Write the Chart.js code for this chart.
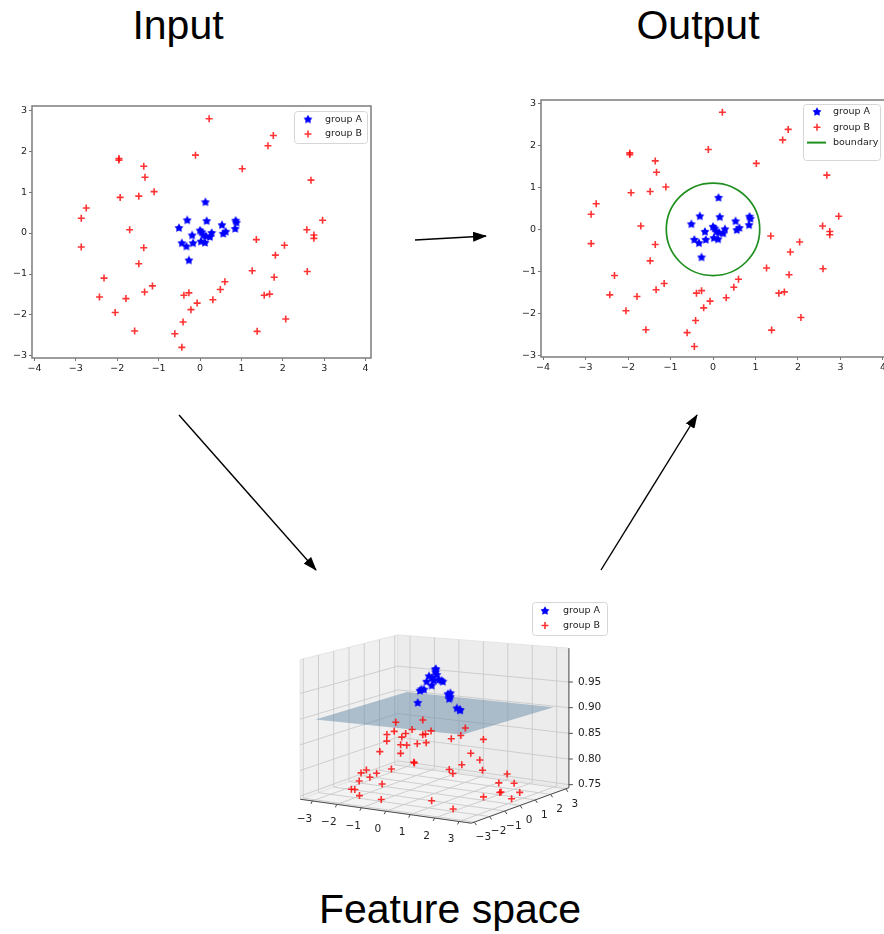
<!DOCTYPE html>
<html>
<head>
<meta charset="utf-8">
<script src="https://cdn.jsdelivr.net/npm/chart.js@4.4.0/dist/chart.umd.min.js"></script>
<style>
  html, body { margin: 0; padding: 0; background: #fff; width: 884px; height: 934px; overflow: hidden; }
  .title { position: absolute; font-family: "Liberation Sans", Arial, sans-serif; font-size: 41px; line-height: 41px; color: #000; white-space: nowrap; transform: translateX(-50%); }
  canvas { position: absolute; }
  svg { position: absolute; left: 0; top: 0; }
</style>
</head>
<body>
<div class="title" style="left:178px; top:5px">Input</div>
<div class="title" style="left:698px; top:5px">Output</div>
<div class="title" style="left:450px; top:889px">Feature space</div>

<svg width="884" height="934">
  <defs>
    <marker id="head" markerWidth="14" markerHeight="10" refX="13" refY="5" orient="auto" markerUnits="userSpaceOnUse">
      <path d="M0,0 L14,5 L0,10 z" fill="#000"/>
    </marker>
  </defs>
  <line x1="415" y1="240" x2="486" y2="236" stroke="#000" stroke-width="1.4" marker-end="url(#head)"/>
  <line x1="179" y1="415" x2="316" y2="570" stroke="#000" stroke-width="1.4" marker-end="url(#head)"/>
  <line x1="601" y1="570" x2="697" y2="415" stroke="#000" stroke-width="1.4" marker-end="url(#head)"/>
</svg>

<canvas id="inputChart" width="380" height="290" style="left:0px; top:95px"></canvas>
<canvas id="outputChart" width="400" height="290" style="left:500px; top:90px"></canvas>
<canvas id="featureChart" width="360" height="290" style="left:270px; top:590px"></canvas>

<script>
// points (same data in both)
const groupA_x = [0.13, -0.31, 0.16, 0.86, 0.88, -0.51, 0.53, 0.62, 0.56, 0.85, 0.00, 0.04, -0.19, 0.08, 0.14, 0.28, 0.24, -0.44, -0.33, -0.17, 0.02, 0.12, -0.27]
const groupA_y = [0.75, 0.31, 0.29, 0.30, 0.25, 0.12, 0.19, 0.03, -0.02, 0.10, 0.06, 0.02, -0.06, -0.06, -0.08, 0.00, -0.10, -0.25, -0.33, -0.25, -0.21, -0.24, -0.67]
// height in feature space (estimated from the 3d plot)
const groupA_z = [0.922, 0.950, 0.960, 0.908, 0.908, 0.943, 0.940, 0.934, 0.940, 0.913, 0.985, 0.986, 0.972, 0.981, 0.976, 0.965, 0.967, 0.944, 0.948, 0.963, 0.971, 0.966, 0.925]

const groupB_x = [0.22, 1.77, 1.64, -0.11, -1.96, -1.96, -1.36, 1.02, -1.33, 2.68, -1.11, -1.93, -1.48, -2.75, -2.87, 2.96, -1.70, 2.58, 2.75, 2.75, -2.87, -1.36, 2.04, 1.36, 1.82, -1.48, 1.26, 2.59, -2.32, 1.79, 0.60, -1.15, 0.49, -1.34, -0.27, -2.43, 1.55, 1.68, -0.39, -1.79, 0.31, -0.07, -0.22, -2.05, -0.41, 2.07, -1.58, 1.38, -0.61, -0.44]
const groupB_y = [2.79, 2.38, 2.13, 1.90, 1.82, 1.78, 1.63, 1.57, 1.36, 1.29, 1.01, 0.87, 0.90, 0.61, 0.36, 0.31, 0.08, 0.08, -0.05, -0.13, -0.34, -0.36, -0.30, -0.16, -0.54, -0.75, -0.92, -0.94, -1.10, -1.08, -1.19, -1.29, -1.38, -1.44, -1.46, -1.56, -1.52, -1.49, -1.52, -1.60, -1.63, -1.71, -1.87, -1.94, -2.17, -2.10, -2.39, -2.40, -2.46, -2.79]
const groupB_z = [0.761, 0.750, 0.770, 0.838, 0.772, 0.774, 0.819, 0.840, 0.838, 0.750, 0.872, 0.819, 0.852, 0.759, 0.753, 0.750, 0.855, 0.780, 0.765, 0.765, 0.753, 0.879, 0.824, 0.880, 0.838, 0.858, 0.866, 0.764, 0.781, 0.821, 0.880, 0.852, 0.875, 0.832, 0.873, 0.753, 0.815, 0.808, 0.866, 0.795, 0.858, 0.854, 0.839, 0.759, 0.811, 0.750, 0.755, 0.764, 0.784, 0.759]

const xTicks = [-4, -3, -2, -1, 0, 1, 2, 3, 4]
const yTicks = [-3, -2, -1, 0, 1, 2, 3]
const xyTicks3d = [-3, -2, -1, 0, 1, 2, 3]
const zTicks3d = [0.75, 0.80, 0.85, 0.90, 0.95]

const boundaryRadius = 1.1
const planeLevel = 0.9
const planeExtent = [-3, 3]

const BLUE = '#0000ff'
const RED = 'rgba(255,0,0,0.8)'
const GREEN = '#1f8f1f'
const FONT = 'DejaVu Sans'

const fmt = v => v < 0 ? '\u2212' + Math.abs(v) : String(v)

// filled five point star like matplotlib's '*'
function starImage(size, color) {
  const c = document.createElement('canvas')
  c.width = c.height = size
  const g = c.getContext('2d')
  const r = size / 2 - 0.3, ri = r * 0.55
  g.beginPath()
  for (let i = 0; i < 10; i++) {
    const a = -Math.PI / 2 + i * Math.PI / 5
    const rr = i % 2 ? ri : r
    g.lineTo(size / 2 + rr * Math.cos(a), size / 2 + rr * Math.sin(a))
  }
  g.closePath()
  g.fillStyle = color
  g.fill()
  return c
}
const star = starImage(10, BLUE)

function zipXY(xs, ys) { return xs.map((x, i) => ({x: x, y: ys[i]})) }

function drawMarker(ctx, kind, x, y) {
  ctx.save()
  if (kind === 'star') {
    ctx.drawImage(star, x - star.width / 2, y - star.height / 2)
  } else if (kind === 'cross') {
    ctx.strokeStyle = RED
    ctx.lineWidth = 1.6
    ctx.beginPath()
    ctx.moveTo(x - 3.5, y); ctx.lineTo(x + 3.5, y)
    ctx.moveTo(x, y - 3.5); ctx.lineTo(x, y + 3.5)
    ctx.stroke()
  } else {
    ctx.strokeStyle = GREEN
    ctx.lineWidth = 2
    ctx.beginPath()
    ctx.moveTo(x - 10, y); ctx.lineTo(x + 9, y)
    ctx.stroke()
  }
  ctx.restore()
}

function drawLegend(ctx, lg, x, y) {
  ctx.save()
  ctx.beginPath()
  ctx.roundRect(x + 0.5, y + 0.5, lg.w, lg.h, 3)
  ctx.fillStyle = 'rgba(255,255,255,0.85)'
  ctx.fill()
  ctx.strokeStyle = '#d6d6d6'
  ctx.lineWidth = 1
  ctx.stroke()
  ctx.font = '9.5px "' + FONT + '"'
  ctx.fillStyle = '#222'
  ctx.textBaseline = 'middle'
  lg.items.forEach((it, i) => {
    const cy = y + lg.first + i * lg.gap
    drawMarker(ctx, it.kind, x + lg.mx, cy)
    ctx.fillText(it.label, x + lg.tx, cy)
  })
  ctx.restore()
}

// frame, boundary circle and legend for the two flat plots
const framePlugin = {
  id: 'frame',
  beforeDatasetsDraw(chart) {
    const {ctx, chartArea: a} = chart
    ctx.save()
    ctx.strokeStyle = '#7c7c7c'
    ctx.lineWidth = 1.5
    ctx.strokeRect(a.left, a.top, a.right - a.left, a.bottom - a.top)
    ctx.restore()
  },
  afterDatasetsDraw(chart, args, opts) {
    const {ctx, chartArea: a, scales} = chart
    if (opts.circle) {
      const cx = scales.x.getPixelForValue(0), cy = scales.y.getPixelForValue(0)
      const rx = scales.x.getPixelForValue(opts.circle) - cx
      const ry = cy - scales.y.getPixelForValue(opts.circle)
      ctx.save()
      ctx.strokeStyle = GREEN
      ctx.lineWidth = 1.7
      ctx.beginPath()
      ctx.ellipse(cx, cy, rx, ry, 0, 0, Math.PI * 2)
      ctx.stroke()
      ctx.restore()
    }
    if (opts.legend) {
      const lg = opts.legend
      drawLegend(ctx, lg, a.right + lg.dx - lg.w, a.top + lg.dy)
    }
  }
}

function axis(min, max, ticks, fit) {
  return {
    type: 'linear',
    min: min,
    max: max,
    grid: { drawOnChartArea: false, drawTicks: true, tickLength: 3, color: '#777' },
    border: { display: false },
    ticks: { color: '#222', font: { family: FONT, size: 9.5 }, padding: 2, maxRotation: 0, autoSkip: false, callback: v => fmt(v) },
    afterBuildTicks: s => { s.ticks = ticks.map(v => ({value: v})) },
    afterFit: fit
  }
}

function flatDatasets() {
  return [
    { label: 'group A', data: zipXY(groupA_x, groupA_y), pointStyle: star, pointRadius: 5 },
    { label: 'group B', data: zipXY(groupB_x, groupB_y), pointStyle: 'cross', pointRadius: 3.5, borderColor: RED, borderWidth: 1.6 }
  ]
}

new Chart(document.getElementById('inputChart'), {
  type: 'scatter',
  data: { datasets: flatDatasets() },
  options: {
    responsive: false,
    animation: false,
    layout: { padding: { top: 11, right: 9, left: 0, bottom: 0 } },
    scales: {
      x: axis(-4.06, 4.13, xTicks, s => { s.height = 27 }),
      y: axis(-3.05, 3.1, yTicks, s => { s.width = 32 })
    },
    plugins: {
      legend: { display: false },
      tooltip: { enabled: false },
      frame: {
        legend: { w: 73, h: 32, dx: -4, dy: 5, first: 8.5, gap: 14.5, mx: 14, tx: 31,
          items: [{kind: 'star', label: 'group A'}, {kind: 'cross', label: 'group B'}] }
      }
    }
  },
  plugins: [framePlugin]
})

new Chart(document.getElementById('outputChart'), {
  type: 'scatter',
  data: { datasets: flatDatasets() },
  options: {
    responsive: false,
    animation: false,
    layout: { padding: { top: 10, right: 12, left: 0, bottom: 0 } },
    scales: {
      x: axis(-4.05, 4.12, xTicks, s => { s.height = 23 }),
      y: axis(-3.04, 3.08, yTicks, s => { s.width = 41 })
    },
    plugins: {
      legend: { display: false },
      tooltip: { enabled: false },
      frame: {
        circle: boundaryRadius,
        legend: { w: 77, h: 56, dx: -8, dy: 4, first: 8, gap: 15.3, mx: 14, tx: 30,
          items: [{kind: 'star', label: 'group A'}, {kind: 'cross', label: 'group B'}, {kind: 'line', label: 'boundary'}] }
      }
    }
  },
  plugins: [framePlugin]
})

// ---- 3d feature space, projected onto page coordinates ----
const lim3 = { x: [-3.5, 3.5], y: [-3.2, 3.2], z: [0.744, 1.016] }
const box3 = { L: [295, 802], F: [472, 827], R: [573, 790], H: 140 }

function proj(x, y, z) {
  const u = (x - lim3.x[0]) / (lim3.x[1] - lim3.x[0])
  const v = (y - lim3.y[0]) / (lim3.y[1] - lim3.y[0])
  const w = (z - lim3.z[0]) / (lim3.z[1] - lim3.z[0])
  const f = 1.12 - 0.08 * ((1 - u) + v)   // a little perspective
  return {
    x: box3.L[0] + u * (box3.F[0] - box3.L[0]) + v * (box3.R[0] - box3.F[0]),
    y: box3.L[1] + u * (box3.F[1] - box3.L[1]) + v * (box3.R[1] - box3.F[1]) - w * box3.H * f
  }
}

const box3dPlugin = {
  id: 'box3d',
  beforeDatasetsDraw(chart) {
    const {ctx, scales} = chart
    const P = (x, y, z) => { const p = proj(x, y, z); return [scales.x.getPixelForValue(p.x), scales.y.getPixelForValue(p.y)] }
    const [x0, x1] = lim3.x, [y0, y1] = lim3.y, [z0, z1] = lim3.z
    const poly = (pts, fill, stroke) => {
      ctx.beginPath()
      pts.forEach((p, i) => { const q = P(...p); i ? ctx.lineTo(q[0], q[1]) : ctx.moveTo(q[0], q[1]) })
      ctx.closePath()
      if (fill) { ctx.fillStyle = fill; ctx.fill() }
      if (stroke) { ctx.strokeStyle = stroke; ctx.stroke() }
    }
    const seg = (a, b) => { const p = P(...a), q = P(...b); ctx.moveTo(p[0], p[1]); ctx.lineTo(q[0], q[1]) }
    ctx.save()
    ctx.lineWidth = 1
    // panes
    poly([[x0, y0, z0], [x1, y0, z0], [x1, y1, z0], [x0, y1, z0]], '#f3f3f3', '#e4e4e4')
    poly([[x0, y0, z0], [x0, y1, z0], [x0, y1, z1], [x0, y0, z1]], '#f0f0f0', '#e4e4e4')
    poly([[x0, y1, z0], [x1, y1, z0], [x1, y1, z1], [x0, y1, z1]], '#ececec', '#e4e4e4')
    // grid
    ctx.strokeStyle = '#c9c9c9'
    ctx.lineWidth = 0.9
    ctx.beginPath()
    xyTicks3d.forEach(t => {
      seg([t, y0, z0], [t, y1, z0]); seg([t, y1, z0], [t, y1, z1])
      seg([x0, t, z0], [x1, t, z0]); seg([x0, t, z0], [x0, t, z1])
    })
    zTicks3d.forEach(t => { seg([x0, y0, t], [x0, y1, t]); seg([x0, y1, t], [x1, y1, t]) })
    ctx.stroke()
    // axis lines
    ctx.strokeStyle = '#4a4a4a'
    ctx.lineWidth = 1
    ctx.beginPath()
    seg([x0, y0, z0], [x1, y0, z0]); seg([x1, y0, z0], [x1, y1, z0]); seg([x1, y1, z0], [x1, y1, z1])
    ctx.stroke()
    // ticks and labels
    ctx.font = '10.5px "' + FONT + '"'
    ctx.fillStyle = '#222'
    ctx.textAlign = 'center'
    ctx.textBaseline = 'middle'
    ctx.beginPath()
    xyTicks3d.forEach(t => {
      const a = P(t, y0, z0)
      ctx.moveTo(a[0], a[1]); ctx.lineTo(a[0] - 1.5, a[1] + 3)
      ctx.fillText(fmt(t), a[0] - 8, a[1] + 18)
      const b = P(x1, t, z0)
      ctx.moveTo(b[0], b[1]); ctx.lineTo(b[0] + 2, b[1] + 3)
      ctx.fillText(fmt(t), b[0] + 9, b[1] + 15)
    })
    ctx.textAlign = 'left'
    zTicks3d.forEach(t => {
      const c = P(x1, y1, t)
      ctx.moveTo(c[0], c[1]); ctx.lineTo(c[0] + 4, c[1])
      ctx.fillText(t.toFixed(2), c[0] + 9, c[1])
    })
    ctx.stroke()
    // separating plane
    const [p0, p1] = planeExtent
    poly([[p0, p0, planeLevel], [p1, p0, planeLevel], [p1, p1, planeLevel], [p0, p1, planeLevel]], 'rgba(98,135,165,0.48)', null)
    ctx.restore()
  },
  afterDatasetsDraw(chart, args, opts) {
    drawLegend(chart.ctx, opts.legend, opts.legend.x, opts.legend.y)
  }
}

const proj3 = (xs, ys, zs) => xs.map((x, i) => proj(x, ys[i], zs[i]))

new Chart(document.getElementById('featureChart'), {
  type: 'scatter',
  data: {
    datasets: [
      { label: 'group B', data: proj3(groupB_x, groupB_y, groupB_z), pointStyle: 'cross', pointRadius: 3.5, borderColor: RED, borderWidth: 1.6 },
      { label: 'group A', data: proj3(groupA_x, groupA_y, groupA_z), pointStyle: star, pointRadius: 5 }
    ]
  },
  options: {
    responsive: false,
    animation: false,
    layout: { padding: 0 },
    scales: {
      x: { type: 'linear', display: false, min: 270, max: 630 },
      y: { type: 'linear', display: false, min: 590, max: 880, reverse: true }
    },
    plugins: {
      legend: { display: false },
      tooltip: { enabled: false },
      box3d: {
        legend: { x: 262, y: 12, w: 75, h: 33, first: 9, gap: 14.5, mx: 13, tx: 31,
          items: [{kind: 'star', label: 'group A'}, {kind: 'cross', label: 'group B'}] }
      }
    }
  },
  plugins: [box3dPlugin]
})
</script>
</body>
</html>
